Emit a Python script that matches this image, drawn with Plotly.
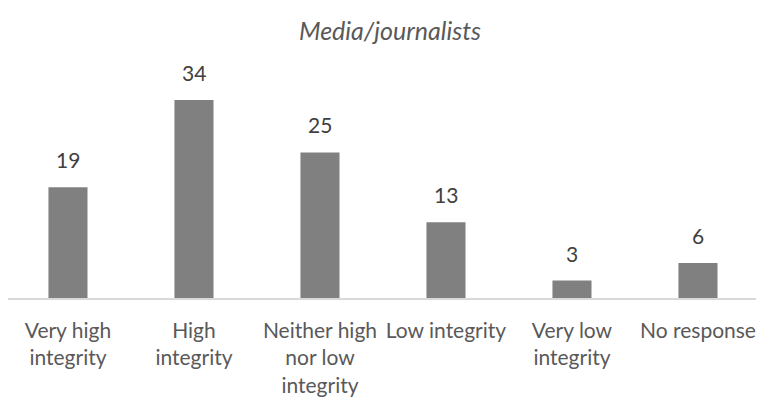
import plotly.graph_objects as go

categories = ["Very high<br>integrity", "High<br>integrity", "Neither high<br>nor low<br>integrity",
              "Low integrity", "Very low<br>integrity", "No response"]
values = [19, 34, 25, 13, 3, 6]
title_text = "Media/journalists"

FONT = "Lato, Carlito, Calibri, sans-serif"

fig = go.Figure()
fig.add_trace(go.Bar(
    x=categories, y=values, width=0.31,
    marker=dict(color="#808080", line=dict(width=0)),
    hoverinfo="skip",
))
for c, v in zip(categories, values):
    fig.add_annotation(x=c, y=v, text=str(v), showarrow=False, yanchor="bottom",
                       yshift=13, font=dict(family=FONT, size=21, color="#404040"))

fig.update_layout(
    width=756, height=395,
    margin=dict(l=0, r=0, t=57, b=105),
    paper_bgcolor="white", plot_bgcolor="white",
    showlegend=False,
    title=dict(text="<i>" + title_text + "</i>", x=382 / 756, xanchor="center", y=1 - 23 / 395,
               yanchor="middle", font=dict(family=FONT, size=25, color="#595959")),
    font=dict(family=FONT, size=21, color="#595959"),
)
fig.update_xaxes(showline=True, linecolor="#d9d9d9", linewidth=1.5, showgrid=False, automargin=False,
                 range=[-0.476, 5.524],
                 ticks="", ticklabelstandoff=13, tickfont=dict(family=FONT, size=21, color="#595959"))
fig.update_yaxes(range=[0, 40], visible=False, showgrid=False, zeroline=False, automargin=False)

fig.write_html("out.html")
